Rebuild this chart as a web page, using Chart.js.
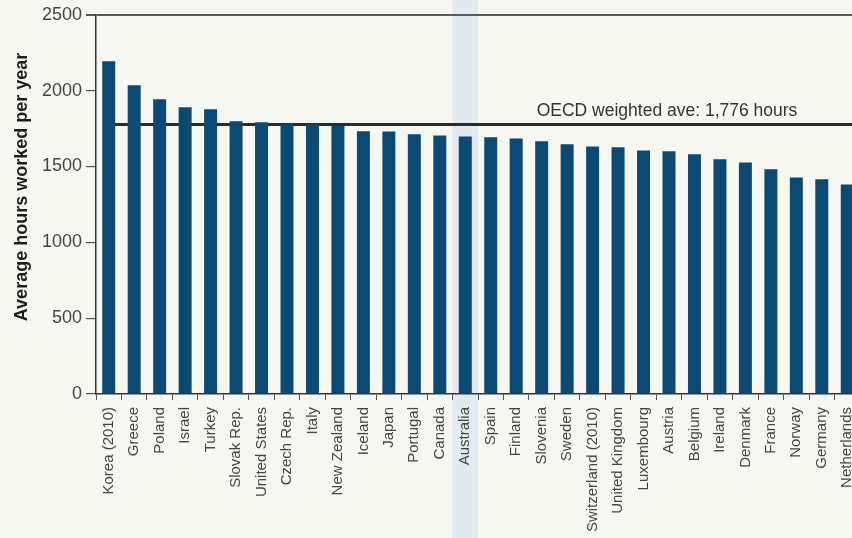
<!DOCTYPE html>
<html>
<head>
<meta charset="utf-8">
<script src="https://cdn.jsdelivr.net/npm/chart.js@4.4.1/dist/chart.umd.min.js"></script>
<style>
  html, body { margin: 0; padding: 0; overflow: hidden; background: #f7f7f2; }
  canvas { display: block; }
</style>
</head>
<body>
<canvas id="hoursChart" width="862" height="538"></canvas>
<script>
const countries = [
  "Korea (2010)", "Greece", "Poland", "Israel", "Turkey", "Slovak Rep.",
  "United States", "Czech Rep.", "Italy", "New Zealand", "Iceland", "Japan",
  "Portugal", "Canada", "Australia", "Spain", "Finland", "Slovenia", "Sweden",
  "Switzerland (2010)", "United Kingdom", "Luxembourg", "Austria", "Belgium",
  "Ireland", "Denmark", "France", "Norway", "Germany", "Netherlands"
];
const hoursWorked = [
  2193, 2035, 1943, 1890, 1877, 1798, 1791, 1779, 1776, 1767, 1732, 1730,
  1712, 1705, 1698, 1692, 1685, 1666, 1646, 1632, 1626, 1606, 1600, 1580,
  1547, 1527, 1481, 1428, 1415, 1382
];
const yTicks = [0, 500, 1000, 1500, 2000, 2500];
const oecdAverage = 1776;
const oecdLabel = "OECD weighted ave: 1,776 hours";
const highlighted = "Australia";
const yTitle = "Average hours worked per year";

const FONT = "'Liberation Sans', Arial, sans-serif";

// background, highlight band, average line and axis title
const decorations = {
  id: "decorations",
  beforeDraw(chart) {
    const { ctx, width, height, scales } = chart;
    ctx.save();
    ctx.fillStyle = "#f7f7f2";
    ctx.fillRect(0, 0, width, height);
    const idx = countries.indexOf(highlighted);
    const cx = scales.x.getPixelForValue(idx);
    const half = (scales.x.getPixelForValue(1) - scales.x.getPixelForValue(0)) / 2;
    ctx.fillStyle = "#e2eaf1";
    ctx.fillRect(cx - half, 0, half * 2, height);
    ctx.restore();
  },
  beforeDatasetsDraw(chart) {
    const { ctx, chartArea, scales } = chart;
    const y = scales.y.getPixelForValue(oecdAverage);
    ctx.save();
    ctx.strokeStyle = "#2b2b2b";
    ctx.lineWidth = 3;
    ctx.beginPath();
    ctx.moveTo(scales.x.getPixelForValue(0), y);
    ctx.lineTo(chartArea.right, y);
    ctx.stroke();
    ctx.fillStyle = "#333";
    ctx.font = "17.5px " + FONT;
    ctx.textAlign = "center";
    ctx.textBaseline = "alphabetic";
    ctx.fillText(oecdLabel, 667, y - 9);
    // y axis title
    ctx.translate(22, 187);
    ctx.rotate(-Math.PI / 2);
    ctx.font = "bold 18px " + FONT;
    ctx.fillStyle = "#1e1e1e";
    ctx.textBaseline = "middle";
    ctx.fillText(yTitle, 0, 0);
    ctx.restore();
  }
};

new Chart(document.getElementById("hoursChart"), {
  type: "bar",
  data: {
    labels: countries,
    datasets: [{
      data: hoursWorked,
      backgroundColor: "#0b4a74",
      categoryPercentage: 1,
      barPercentage: 0.51
    }]
  },
  options: {
    responsive: false,
    animation: false,
    layout: { padding: { top: 14, right: 2, left: 0, bottom: 0 } },
    plugins: {
      legend: { display: false },
      tooltip: { enabled: false }
    },
    scales: {
      x: {
        afterFit: (s) => { s.height = 144; s.paddingLeft = 0; s.paddingRight = 0; },
        border: { color: "#333", width: 1.5 },
        grid: { drawOnChartArea: false, tickLength: 6, color: "#555", offset: true },
        ticks: {
          minRotation: 90, maxRotation: 90, autoSkip: false, padding: 7,
          color: "#444", font: { family: FONT, size: 15 }
        }
      },
      y: {
        min: 0, max: 2500,
        afterFit: (s) => { s.width = 96; },
        afterBuildTicks: (s) => { s.ticks = yTicks.map((v) => ({ value: v })); },
        border: { color: "#333", width: 1.5 },
        grid: {
          tickLength: 10,
          color: (c) => (c.tick && c.tick.value === 2500 ? "#5a5a5a" : "rgba(0,0,0,0)"),
          tickColor: "#555",
          lineWidth: (c) => (c.tick && c.tick.value === 2500 ? 2 : 1.2)
        },
        ticks: {
          padding: 4,
          callback: (v) => String(v),
          color: "#444", font: { family: FONT, size: 18 }
        }
      }
    }
  },
  plugins: [decorations]
});
</script>
</body>
</html>
